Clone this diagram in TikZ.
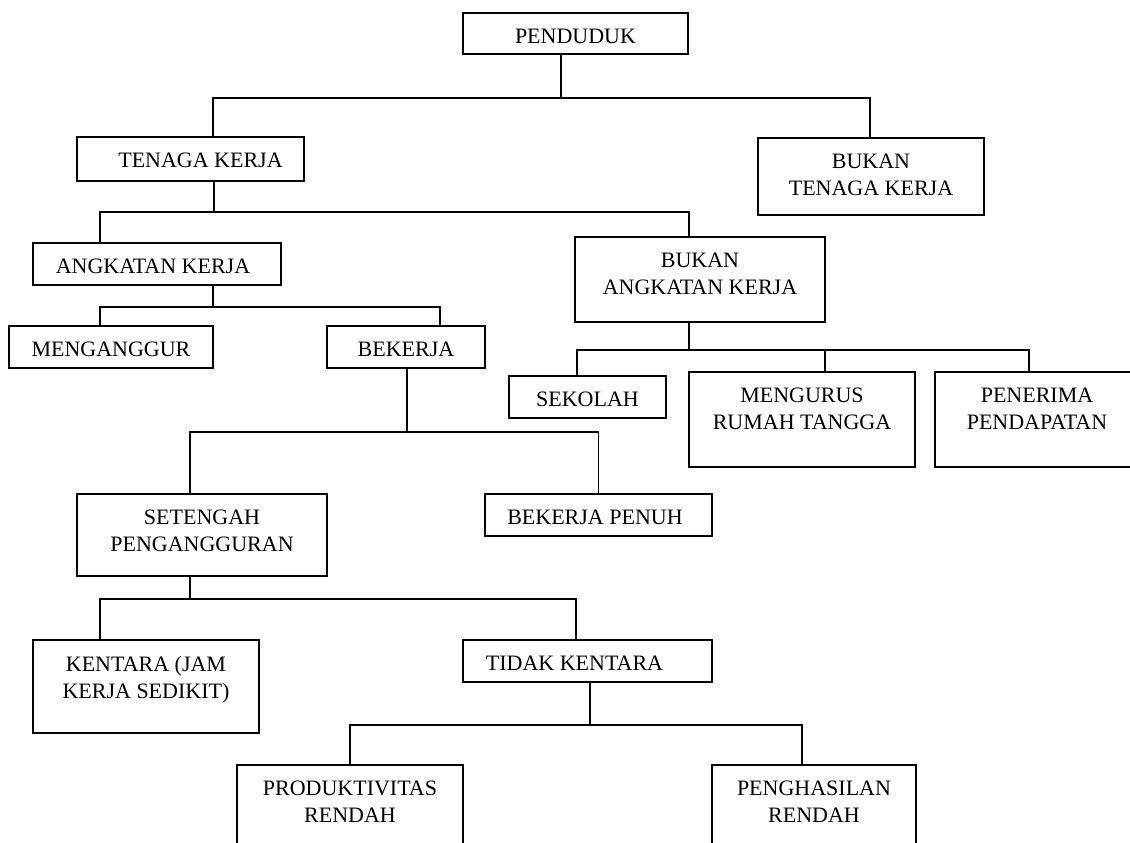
\documentclass[tikz,border=0pt]{standalone}
\usepackage{fontspec}
\setmainfont{Liberation Serif}
\tikzset{
  kotak/.style={draw, line width=1.8pt, inner sep=0pt},
  teks/.style={anchor=north, inner sep=0pt, yshift=-17pt, align=center,
    font=\fontsize{22}{26.5}\selectfont},
  garis/.style={line width=1.3pt},
}
% box with its text near the top: [text shift]{name}{centre}{width}{height}{text}
\newcommand{\kotak}[6][0pt]{%
  \node[kotak, minimum width=#4, minimum height=#5,
    label={[teks, xshift=#1]north:#6}] (#2) at (#3) {};
}

\begin{document}
\begin{tikzpicture}[x=1pt, y=-1pt]
  \useasboundingbox (0,0) rectangle (1130,843);
  \clip (0,0) rectangle (1130,843);
  % boxes
  \kotak{pend}{575.5,33.5}{225}{41}{PENDUDUK}
  \kotak[10pt]{tk}{190.5,159}{227}{44}{TENAGA KERJA}
  \kotak{btk}{871,176.5}{226}{77}{BUKAN\\TENAGA KERJA}
  \kotak[-4pt]{ak}{157,264}{248}{42}{ANGKATAN KERJA}
  \kotak{bak}{700,279.5}{250}{85}{BUKAN\\ANGKATAN KERJA}
  \kotak{mgg}{111,347}{204}{42}{MENGANGGUR}
  \kotak{bek}{406,347}{158}{42}{BEKERJA}
  \kotak{sek}{587.5,397}{157}{42}{SEKOLAH}
  \kotak{mrt}{802,419.5}{226}{95}{MENGURUS\\RUMAH TANGGA}
  \kotak{pp}{1037,419.5}{204}{95}{PENERIMA\\PENDAPATAN}
  \kotak{sp}{202,535}{250}{82}{SETENGAH\\PENGANGGURAN}
  \kotak[-3.5pt]{bp}{598.5,515}{227}{42}{BEKERJA PENUH}
  \kotak{ken}{146,686.5}{226}{93}{KENTARA (JAM\\KERJA SEDIKIT)}
  \kotak[-13pt]{tdk}{587.5,661}{249}{42}{TIDAK KENTARA}
  \kotak{prod}{350,815}{226}{100}{PRODUKTIVITAS\\RENDAH}
  \kotak{peng}{814,815}{204}{100}{PENGHASILAN\\RENDAH}
  % penduduk
  \draw[garis] ([xshift=-14.5pt]pend.south) -- ++(0,43) coordinate (b1);
  \draw[garis] ([xshift=22.5pt]tk.north) |- (b1) -| ([xshift=-1pt]btk.north);
  % tenaga kerja
  \draw[garis] ([xshift=23.5pt]tk.south) -- ++(0,30) coordinate (b2);
  \draw[garis] ([xshift=-57pt]ak.north) |- (b2) -| ([xshift=-11pt]bak.north);
  % angkatan kerja
  \draw[garis] ([xshift=56pt]ak.south) -- ++(0,21) coordinate (b3);
  \draw[garis] ([xshift=-11pt]mgg.north) |- (b3) -| ([xshift=34pt]bek.north);
  % bukan angkatan kerja
  \draw[garis] ([xshift=-11pt]bak.south) -- ++(0,27) coordinate (b4);
  \draw[garis] ([xshift=-10.5pt]sek.north) |- (b4) -| ([xshift=-8pt]pp.north);
  \draw[garis] ([xshift=23pt]mrt.north) -- ([xshift=23pt]mrt.north |- b4);
  % bekerja
  \draw[garis] ([xshift=1pt]bek.south) -- ++(0,63) coordinate (b5);
  \draw[garis] ([xshift=-12pt]sp.north) |- (b5) -| (bp.north);
  % setengah pengangguran
  \draw[garis] ([xshift=-12pt]sp.south) -- ++(0,22) coordinate (b6);
  \draw[garis] ([xshift=-46pt]ken.north) |- (b6) -| ([xshift=-11.5pt]tdk.north);
  % tidak kentara
  \draw[garis] ([xshift=2.5pt]tdk.south) -- ++(0,42) coordinate (b7);
  \draw[garis] (prod.north) |- (b7) -| ([xshift=-12pt]peng.north);
\end{tikzpicture}
\end{document}
